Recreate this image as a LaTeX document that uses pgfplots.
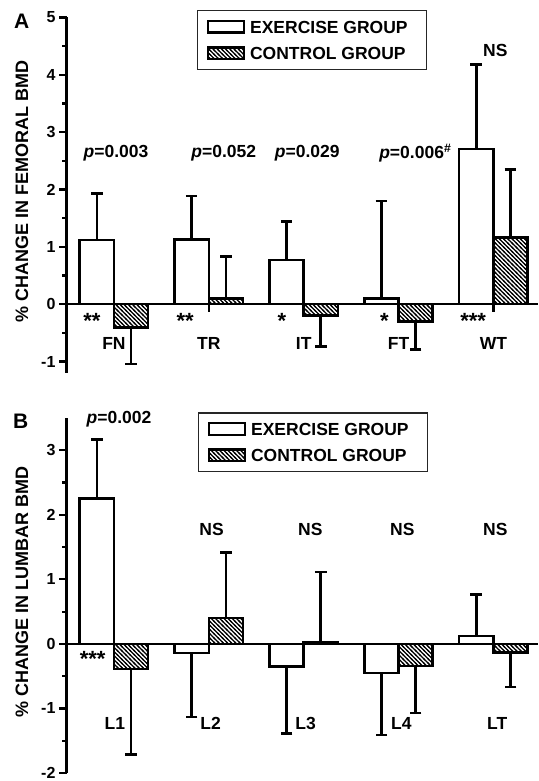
\documentclass[border=0pt]{standalone}
\usepackage{fontspec}
\setmainfont{Liberation Sans}
\usepackage{pgfplots}
\usepackage{pgfplotstable}
\pgfplotsset{compat=1.18}
\usetikzlibrary{patterns.meta}
\pgfdeclarepattern{
  name=myhatch,
  type=uncolored,
  bottom left={\pgfpoint{-1pt}{-1pt}},
  top right={\pgfpoint{5.2pt}{5.2pt}},
  tile size={\pgfpoint{4.2pt}{4.2pt}},
  code={
    \pgfsetlinewidth{1.25pt}
    \pgfpathmoveto{\pgfpoint{-1pt}{5.2pt}}
    \pgfpathlineto{\pgfpoint{5.2pt}{-1pt}}
    \pgfusepath{stroke}
  }
}
\newcommand\annot{\fontsize{17.5}{20}\selectfont\bfseries}
\newcommand\starf{\fontsize{22}{24}\selectfont\bfseries}
\newcommand\tickf{\fontsize{16}{18}\selectfont\bfseries}
\newcommand\labf{\fontsize{18}{20}\selectfont\bfseries}

\pgfplotstableread{
x y ep em
0.8195 1.12 0.81 0
1.8195 1.13 0.76 0
2.8195 0.77 0.67 0
3.8195 0.10 1.70 0
4.8195 2.71 1.47 0
}\Aex
\pgfplotstableread{
x y ep em
1.1805 -0.41 0 0.63
2.1805 0.10 0.73 0
3.1805 -0.20 0 0.54
4.1805 -0.30 0 0.49
5.1805 1.16 1.19 0
}\Acon
\pgfplotstableread{
x y ep em
0.8195 2.25 0.92 0
1.8195 -0.14 0 0.99
2.8195 -0.35 0 1.04
3.8195 -0.45 0 0.96
4.8195 0.12 0.65 0
}\Bex
\pgfplotstableread{
x y ep em
1.1805 -0.39 0 1.32
2.1805 0.40 1.02 0
3.1805 0.025 1.09 0
4.1805 -0.34 0 0.73
5.1805 -0.13 0 0.54
}\Bcon

\pgfplotsset{
  myleg/.style={legend image code/.code={\draw[##1, line width=2.4pt] (0pt,-5.8pt) rectangle (36pt,5.8pt); \path (41pt,0pt);}},
  panel/.style={
    scale only axis, width=471.5pt, xmin=0.5, xmax=5.47,
    axis x line*=middle, axis y line*=left,
    axis line style={line width=2.6pt, black},
    xtick={1,2,3,4,5}, xticklabels={},
    tick align=outside,
    major tick length=7.5pt, minor tick length=4.5pt,
    every tick/.style={line width=2.2pt, black},
    minor y tick num=1,
    tick label style={font=\tickf},
    clip=false,
    legend cell align=left,
    legend style={anchor=north west, draw=black!85, line width=1.2pt, fill=white,
      font=\annot, inner xsep=9pt, inner ysep=9pt, row sep=12.5pt,
      nodes={inner sep=0pt, text height=13pt, text depth=0pt}},
  },
  exstyle/.style={ybar, bar width=0.361, bar shift=0pt, fill=white, draw=black, line width=2.6pt, myleg,
    error bars/.cd, y dir=both, y explicit, error bar style={line width=2.6pt, black},
    error mark options={line width=2.6pt, mark size=5.8pt, black, rotate=90}},
  constyle/.style={ybar, bar width=0.361, bar shift=0pt, pattern={myhatch}, pattern color=black, draw=black, line width=2.6pt, myleg,
    error bars/.cd, y dir=both, y explicit, error bar style={line width=2.6pt, black},
    error mark options={line width=2.6pt, mark size=5.8pt, black, rotate=90}},
}

\begin{document}
\begin{tikzpicture}
\useasboundingbox (0,0) rectangle (538pt,-781pt);
% Panel A
\begin{axis}[panel, at={(66.5pt,-17.5pt)}, anchor=north west, height=355.5pt,
  ymin=-1.2, ymax=5, ytick={-1,0,1,2,3,4,5}, yticklabels={-1,0,1,2,3,4,5},
  legend style={at={(0.2768,1.021)}}]
\addplot[exstyle] table[x=x, y=y, y error plus=ep, y error minus=em] {\Aex};
\addplot[constyle] table[x=x, y=y, y error plus=ep, y error minus=em] {\Acon};
\legend{EXERCISE GROUP\hspace*{10pt}, CONTROL GROUP}
\node[font=\annot, anchor=west] at (axis cs:0.644,2.64) {\textit{p}=0.003};
\node[font=\annot, anchor=west] at (axis cs:1.78,2.64) {\textit{p}=0.052};
\node[font=\annot, anchor=west] at (axis cs:2.66,2.64) {\textit{p}=0.029};
\node[font=\annot, anchor=west] at (axis cs:3.76,2.64) {\textit{p}=0.006\textsuperscript{\#}};
\node[font=\annot] at (axis cs:5.02,4.42) {NS};
\node[font=\starf] at (axis cs:0.768,-0.30) {**};
\node[font=\starf] at (axis cs:1.75,-0.30) {**};
\node[font=\starf] at (axis cs:2.77,-0.30) {*};
\node[font=\starf] at (axis cs:3.85,-0.30) {*};
\node[font=\starf] at (axis cs:4.786,-0.30) {***};
\node[font=\annot] at (axis cs:1.0,-0.68) {FN};
\node[font=\annot] at (axis cs:2.0,-0.68) {TR};
\node[font=\annot] at (axis cs:3.0,-0.68) {IT};
\node[font=\annot] at (axis cs:4.0,-0.68) {FT};
\node[font=\annot] at (axis cs:5.0,-0.68) {WT};
\node[font=\labf, rotate=90] at (axis description cs:-0.0944,0.51) {\% CHANGE IN FEMORAL BMD};
\end{axis}
% Panel B
\begin{axis}[panel, at={(66.5pt,-418pt)}, anchor=north west, height=355pt,
  ymin=-2, ymax=3.5, ytick={-2,-1,0,1,2,3}, yticklabels={-2,-1,0,1,2,3},
  legend style={at={(0.2789,1.016)}}]
\addplot[exstyle] table[x=x, y=y, y error plus=ep, y error minus=em] {\Bex};
\addplot[constyle] table[x=x, y=y, y error plus=ep, y error minus=em] {\Bcon};
\legend{EXERCISE GROUP\hspace*{10pt}, CONTROL GROUP}
\node[font=\annot, anchor=west] at (axis cs:0.675,3.48) {\textit{p}=0.002};
\node[font=\annot] at (axis cs:2.03,1.78) {NS};
\node[font=\annot] at (axis cs:3.07,1.78) {NS};
\node[font=\annot] at (axis cs:4.04,1.78) {NS};
\node[font=\annot] at (axis cs:5.02,1.78) {NS};
\node[font=\starf] at (axis cs:0.776,-0.24) {***};
\node[font=\annot] at (axis cs:1.01,-1.23) {L1};
\node[font=\annot] at (axis cs:2.02,-1.23) {L2};
\node[font=\annot] at (axis cs:3.02,-1.23) {L3};
\node[font=\annot] at (axis cs:4.03,-1.23) {L4};
\node[font=\annot] at (axis cs:5.04,-1.23) {LT};
\node[font=\labf, rotate=90] at (axis description cs:-0.0944,0.51) {\% CHANGE IN LUMBAR BMD};
\end{axis}
\node[font=\fontsize{21}{24}\selectfont\bfseries] at (21.7pt,-21.7pt) {A};
\node[font=\fontsize{21}{24}\selectfont\bfseries] at (20.8pt,-420.8pt) {B};
\end{tikzpicture}
\end{document}
